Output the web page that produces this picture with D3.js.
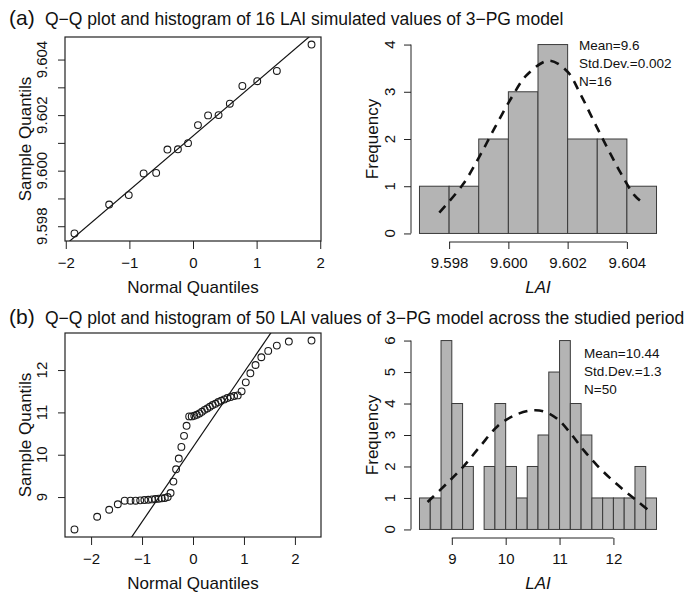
<!DOCTYPE html>
<html>
<head>
<meta charset="utf-8">
<script src="https://cdn.jsdelivr.net/npm/d3@7"></script>
<style>
  body { margin: 0; background: #fff; }
  text { font-family: "Liberation Sans", Arial, Helvetica, sans-serif; fill: #111; }
</style>
</head>
<body>
<svg id="fig" width="684" height="592"></svg>
<script>
// ---------- panel (a): 16 simulated LAI values ----------
const titleA = "Q\u2212Q plot and histogram of 16 LAI simulated values of 3\u2212PG model";
const qqTheoA = [-1.863, -1.318, -1.010, -0.776, -0.579, -0.402, -0.237, -0.078,
                 0.078, 0.237, 0.402, 0.579, 0.776, 1.010, 1.318, 1.863];
const qqSampleA = [9.59774, 9.59878, 9.59912, 9.59990, 9.59992, 9.60076, 9.60077, 9.60099,
                   9.60164, 9.60199, 9.60200, 9.60241, 9.60305, 9.60322, 9.60359, 9.60454];
const qqLineA = [9.60125, 0.001953];            // intercept, slope
const qqXTicksA = [-2, -1, 0, 1, 2];
const qqYTicksA = [9.598, 9.599, 9.600, 9.601, 9.602, 9.603, 9.604];
const qqYLabelsA = [9.598, 9.600, 9.602, 9.604];
const histBreaksA = [9.597, 9.598, 9.599, 9.600, 9.601, 9.602, 9.603, 9.604, 9.605];
const histCountsA = [1, 1, 2, 3, 4, 2, 2, 1];
const histXTicksA = [9.598, 9.600, 9.602, 9.604];
const histYTicksA = [0, 1, 2, 3, 4];
const curveXA = [9.59767, 9.59848, 9.59905, 9.59956, 9.60013, 9.60063, 9.60137, 9.60199,
                 9.60244, 9.60289, 9.60335, 9.60380, 9.60425, 9.60459];
const curveYA = [0.44, 1.05, 1.66, 2.26, 2.90, 3.36, 3.66, 3.43, 2.94, 2.37, 1.80, 1.27, 0.81, 0.62];
const statsA = ["Mean=9.6", "Std.Dev.=0.002", "N=16"];

// ---------- panel (b): 50 LAI values across the period ----------
const titleB = "Q\u2212Q plot and histogram of 50 LAI values of 3\u2212PG model across the studied period";
const qqTheoB = [-2.326, -1.881, -1.645, -1.476, -1.341, -1.227, -1.126, -1.036, -0.954, -0.878,
                 -0.806, -0.739, -0.674, -0.613, -0.553, -0.496, -0.440, -0.385, -0.332, -0.279,
                 -0.228, -0.176, -0.126, -0.075, -0.025, 0.025, 0.075, 0.126, 0.176, 0.228,
                 0.279, 0.332, 0.385, 0.440, 0.496, 0.553, 0.613, 0.674, 0.739, 0.806,
                 0.878, 0.954, 1.036, 1.126, 1.227, 1.341, 1.476, 1.645, 1.881, 2.326];
const qqSampleB = [8.235, 8.535, 8.70, 8.83, 8.914, 8.914, 8.914, 8.922, 8.93, 8.937,
                   8.945, 8.953, 8.961, 8.969, 8.977, 9.0, 9.095, 9.365, 9.656, 9.91,
                   10.185, 10.446, 10.683, 10.905, 10.905, 10.92, 10.943, 10.975, 11.014, 11.06,
                   11.094, 11.133, 11.173, 11.204, 11.244, 11.275, 11.307, 11.339, 11.363, 11.386,
                   11.402, 11.497, 11.71, 11.924, 12.12, 12.303, 12.453, 12.578, 12.673, 12.697];
const qqLineB = [10.18, 1.765];
const qqXTicksB = [-2, -1, 0, 1, 2];
const qqYTicksB = [9, 10, 11, 12];
const qqYLabelsB = [9, 10, 11, 12];
const histBreaksB = [8.4, 8.6, 8.8, 9.0, 9.2, 9.4, 9.6, 9.8, 10.0, 10.2, 10.4, 10.6,
                     10.8, 11.0, 11.2, 11.4, 11.6, 11.8, 12.0, 12.2, 12.4, 12.6, 12.8];
const histCountsB = [1, 1, 6, 4, 2, 0, 2, 4, 2, 1, 2, 3, 5, 6, 4, 3, 1, 1, 1, 1, 2, 1];
const histXTicksB = [9, 10, 11, 12];
const histYTicksB = [0, 1, 2, 3, 4, 5, 6];
const curveXB = [8.55, 8.92, 9.23, 9.54, 9.85, 10.16, 10.47, 10.71, 10.96, 11.21, 11.45, 11.70, 11.95, 12.20, 12.45, 12.68];
const curveYB = [0.87, 1.48, 2.03, 2.67, 3.28, 3.62, 3.78, 3.75, 3.51, 3.04, 2.51, 2.03, 1.61, 1.24, 0.89, 0.57];
const statsB = ["Mean=10.44", "Std.Dev.=1.3", "N=50"];

const svg = d3.select("#fig");

// R-style 4% padding of a range
function pad(ext) {
  const d = (ext[1] - ext[0]) * 0.04;
  return [ext[0] - d, ext[1] + d];
}

function title(y, tag, txt) {
  svg.append("text").attr("x", 9).attr("y", y).style("font-size", "21px").text(tag);
  svg.append("text").attr("x", 45).attr("y", y).style("font-size", "17.5px").text(txt);
}

function yLabels(g, x, scale, vals, fmt, off) {
  g.selectAll(null).data(vals).enter().append("text")
    .attr("transform", d => `translate(${x - off},${scale(d)}) rotate(-90)`)
    .attr("text-anchor", "middle")
    .style("font-size", "15px")
    .text(fmt);
}

function qqPanel(box, theo, sample, line, xTicks, yTicks, yLabs, yFmt) {
  const x = d3.scaleLinear().domain(pad(d3.extent(theo))).range([box.x0, box.x1]);
  const y = d3.scaleLinear().domain(pad(d3.extent(sample))).range([box.y1, box.y0]);
  const g = svg.append("g");

  // axes (ticks only, the box replaces the axis line)
  const ax = g.append("g").attr("transform", `translate(0,${box.y1})`)
    .call(d3.axisBottom(x).tickValues(xTicks).tickSize(8).tickPadding(5).tickFormat(d3.format("d")));
  ax.select(".domain").remove();
  ax.selectAll("text").style("font-size", "15px").attr("fill", "#111").attr("dy", "0.95em");
  ax.selectAll("line").attr("stroke", "#222");

  const ay = g.append("g").attr("transform", `translate(${box.x0},0)`)
    .call(d3.axisLeft(y).tickValues(yTicks).tickSize(7).tickFormat(""));
  ay.select(".domain").remove();
  ay.selectAll("line").attr("stroke", "#222");
  yLabels(g, box.x0, y, yLabs, yFmt, 18);

  // qqline clipped to the box
  const clipId = "clip" + box.y0;
  g.append("clipPath").attr("id", clipId).append("rect")
    .attr("x", box.x0).attr("y", box.y0).attr("width", box.x1 - box.x0).attr("height", box.y1 - box.y0);
  const xd = x.domain();
  g.append("line").attr("clip-path", `url(#${clipId})`)
    .attr("x1", x(xd[0])).attr("y1", y(line[0] + line[1] * xd[0]))
    .attr("x2", x(xd[1])).attr("y2", y(line[0] + line[1] * xd[1]))
    .attr("stroke", "#111").attr("stroke-width", 1.2);

  g.selectAll("circle").data(theo).enter().append("circle")
    .attr("cx", d => x(d)).attr("cy", (d, i) => y(sample[i])).attr("r", 3.4)
    .attr("fill", "none").attr("stroke", "#1a1a1a").attr("stroke-width", 1.1);

  g.append("rect").attr("x", box.x0).attr("y", box.y0)
    .attr("width", box.x1 - box.x0).attr("height", box.y1 - box.y0)
    .attr("fill", "none").attr("stroke", "#222").attr("stroke-width", 1.2);

  g.append("text").attr("x", (box.x0 + box.x1) / 2).attr("y", box.y1 + 52)
    .attr("text-anchor", "middle").style("font-size", "17px").text("Normal Quantiles");
  g.append("text")
    .attr("transform", `translate(${box.x0 - 34},${(box.y0 + box.y1) / 2}) rotate(-90)`)
    .attr("text-anchor", "middle").style("font-size", "17px").text("Sample Quantils");
}

function histPanel(box, breaks, counts, cx, cy, xTicks, xFmt, yTicks, stats, statPos) {
  const x = d3.scaleLinear().domain(pad(d3.extent(breaks))).range([box.x0, box.x1]);
  const y = d3.scaleLinear().domain(pad([0, d3.max(yTicks)])).range([box.y1, box.y0]);
  const g = svg.append("g");

  g.selectAll("rect.bar").data(counts).enter().append("rect").attr("class", "bar")
    .attr("x", (d, i) => x(breaks[i])).attr("width", (d, i) => x(breaks[i + 1]) - x(breaks[i]))
    .attr("y", d => y(d)).attr("height", d => y(0) - y(d))
    .attr("fill", "#b4b4b4").attr("stroke", "#3a3a3a").attr("stroke-width", 1);

  const line = d3.line().x(d => x(d[0])).y(d => y(d[1])).curve(d3.curveCatmullRom);
  g.append("path").attr("d", line(d3.zip(cx, cy)))
    .attr("fill", "none").attr("stroke", "#111").attr("stroke-width", 2.6)
    .attr("stroke-dasharray", "9,7");

  // x axis, line only between outer ticks
  const ax = g.append("g").attr("transform", `translate(0,${box.y1 + 1})`)
    .call(d3.axisBottom(x).tickValues(xTicks).tickSize(7).tickSizeOuter(0).tickPadding(5).tickFormat(xFmt));
  ax.select(".domain").attr("d", `M${x(xTicks[0])},0H${x(xTicks[xTicks.length - 1])}`).attr("stroke", "#222");
  ax.selectAll("text").style("font-size", "15px").attr("fill", "#111").attr("dy", "0.95em");
  ax.selectAll("line").attr("stroke", "#222");

  const ay = g.append("g").attr("transform", `translate(${box.x0 + 1},0)`)
    .call(d3.axisLeft(y).tickValues(yTicks).tickSize(7).tickSizeOuter(0).tickFormat(""));
  ay.select(".domain").attr("d", `M0,${y(yTicks[0])}V${y(yTicks[yTicks.length - 1])}`).attr("stroke", "#222");
  ay.selectAll("line").attr("stroke", "#222");
  yLabels(g, box.x0, y, yTicks, d3.format("d"), 15);

  g.append("text").attr("x", (box.x0 + box.x1) / 2).attr("y", box.y1 + 52)
    .attr("text-anchor", "middle").style("font-size", "17px").style("font-style", "italic").text("LAI");
  g.append("text")
    .attr("transform", `translate(${box.x0 - 32},${(box.y0 + box.y1) / 2}) rotate(-90)`)
    .attr("text-anchor", "middle").style("font-size", "17px").text("Frequency");

  g.selectAll("text.stat").data(stats).enter().append("text").attr("class", "stat")
    .attr("x", statPos[0]).attr("y", (d, i) => statPos[1] + i * 18)
    .style("font-size", "13.5px").text(d => d);
}

const fmt3 = d3.format(".3f");
const fmt0 = d3.format("d");

title(25, "(a)", titleA);
qqPanel({x0: 65, x1: 321, y0: 37, y1: 241}, qqTheoA, qqSampleA, qqLineA, qqXTicksA, qqYTicksA, qqYLabelsA, fmt3);
histPanel({x0: 410, x1: 666, y0: 37, y1: 241}, histBreaksA, histCountsA, curveXA, curveYA,
          histXTicksA, fmt3, histYTicksA, statsA, [579, 50]);

title(324, "(b)", titleB);
qqPanel({x0: 65, x1: 321, y0: 333, y1: 537}, qqTheoB, qqSampleB, qqLineB, qqXTicksB, qqYTicksB, qqYLabelsB, fmt0);
histPanel({x0: 410, x1: 666, y0: 333, y1: 537}, histBreaksB, histCountsB, curveXB, curveYB,
          histXTicksB, fmt0, histYTicksB, statsB, [584, 358]);
</script>
</body>
</html>
